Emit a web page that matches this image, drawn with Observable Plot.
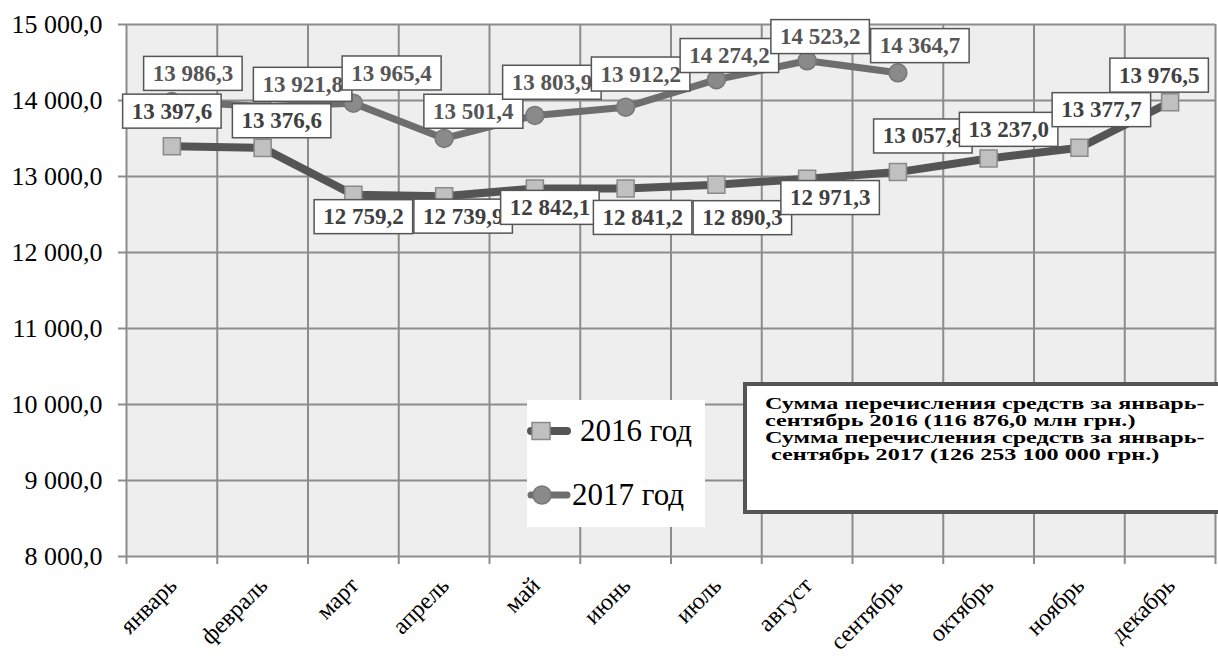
<!DOCTYPE html>
<html><head><meta charset="utf-8">
<script src="https://cdn.jsdelivr.net/npm/d3@7"></script>
<script src="https://cdn.jsdelivr.net/npm/@observablehq/plot@0.6"></script>
<style>
body{margin:0;background:#fff;overflow:hidden}
#wrap{position:relative;width:1218px;height:657px;overflow:hidden;font-family:"Liberation Serif","Tinos","Times New Roman",serif}
#legend{position:absolute;left:527px;top:400px;width:178px;height:127px;background:#fff}
#legend .row{position:absolute;left:0;display:flex;align-items:center;font-size:31px;color:#000;white-space:nowrap}
#note{position:absolute;left:743px;top:382px;width:480px;height:124px;background:#fff;border:4px solid #555;box-sizing:content-box}
#note .t{position:absolute;left:18px;top:9px;font-weight:bold;font-size:17px;line-height:17px;color:#000;white-space:nowrap;transform:scaleX(1.42);transform-origin:0 0}
</style></head><body><div id="wrap"></div>
<script>
const months = ["январь","февраль","март","апрель","май","июнь","июль","август","сентябрь","октябрь","ноябрь","декабрь"];
const values2016 = [13397.6,13376.6,12759.2,12739.9,12842.1,12841.2,12890.3,12971.3,13057.8,13237.0,13377.7,13976.5];
const values2017 = [13986.3,13921.8,13965.4,13501.4,13803.9,13912.2,14274.2,14523.2,14364.7];
const yTicks = [8000,9000,10000,11000,12000,13000,14000,15000];
const seriesNames = ["2016 год","2017 год"];
const noteLines = ["Сумма перечисления средств за январь-","сентябрь 2016 (116 876,0 млн грн.)","Сумма перечисления средств за январь-"," сентябрь 2017 (126 253 100 000 грн.)"];

// label placement (pixel offsets from points)
const off2016 = [[0,-35],[19,-27],[10,22],[19,20],[15,19],[17,29],[26,33],[23,19],[25,-36],[20,-29],[22,-38],[-11,-27]];
const off2017 = [[21,-28],[40,-22],[38,-30],[29,-27],[17,-33],[15,-33],[13,-24],[13,-24],[22,-27]];

const loc = d3.formatLocale({decimal:",", thousands:"\u00a0", grouping:[3], currency:["",""]});
const fmt = loc.format(",.1f");

const d16 = values2016.map((v,i)=>({i, x:i+0.5, v}));
const d17 = values2017.map((v,i)=>({i, x:i+0.5, v}));
const edges = d3.range(months.length+1);
const centers = months.map((m,i)=>i+0.5);
const labelSet = new Set([...values2016, ...values2017].map(fmt));

function labelMarks(data, offs, color){
  return data.map((d,k)=>Plot.text([d], {x:"x", y:"v", text:d=>fmt(d.v), dx:offs[k][0], dy:offs[k][1],
    fontSize:23, fontWeight:"bold", fill:color}));
}

const chart = Plot.plot({
  width:1218, height:657,
  marginLeft:126, marginRight:3, marginTop:24, marginBottom:101,
  style:{fontFamily:"'Liberation Serif', Tinos, 'Times New Roman', serif", background:"transparent", overflow:"visible"},
  x:{domain:[0,months.length], axis:null},
  y:{domain:[8000,15000], axis:null},
  marks:[
    Plot.frame({fill:"#eeeeee", stroke:null}),
    Plot.ruleY(yTicks, {stroke:"#8c8c8c", strokeWidth:2}),
    Plot.ruleX(edges, {stroke:"#8c8c8c", strokeWidth:2}),
    Plot.axisY({ticks:yTicks, tickFormat:fmt, tickSize:8, tickPadding:16, fontSize:26, stroke:"#8c8c8c", strokeWidth:2, fill:"#000", label:null}),
    Plot.axisX({ticks:edges, tickSize:8, tickFormat:()=>"", stroke:"#8c8c8c", strokeWidth:2, label:null}),
    Plot.axisX({ticks:centers, tickSize:0, tickPadding:25, tickRotate:-45, tickFormat:d=>months[Math.round(d-0.5)], fontSize:24, dx:1, fill:"#000", label:null}),
    Plot.line(d16, {x:"x", y:"v", stroke:"#555555", strokeWidth:8}),
    Plot.dot(d16, {x:"x", y:"v", symbol:"square", r:9.6, fill:"#c0c0c0", stroke:"#8a8a8a", strokeWidth:1.5}),
    Plot.line(d17, {x:"x", y:"v", stroke:"#6e6e6e", strokeWidth:7}),
    Plot.dot(d17, {x:"x", y:"v", r:9, fill:"#8a8a8a", stroke:"#777777", strokeWidth:1.5}),
    ...labelMarks(d16, off2016, "#404040"),
    ...labelMarks(d17, off2017, "#555555")
  ]
});

const wrap = document.getElementById("wrap");
wrap.appendChild(chart);

// boxes behind labels (same local transform as the text)
Array.from(chart.querySelectorAll("text")).filter(t=>labelSet.has(t.textContent)).forEach(t=>{
  const bb = t.getBBox();
  const cy = bb.y + bb.height/2;
  const r = document.createElementNS("http://www.w3.org/2000/svg","rect");
  r.setAttribute("x", bb.x - 9);
  r.setAttribute("y", cy - 17);
  r.setAttribute("width", bb.width + 18);
  r.setAttribute("height", 34);
  r.setAttribute("fill", "#fff");
  r.setAttribute("stroke", "#555");
  r.setAttribute("stroke-width", 1.5);
  const tr = t.getAttribute("transform");
  if (tr) r.setAttribute("transform", tr);
  t.parentNode.insertBefore(r, t);
});

// legend
const legend = document.createElement("div");
legend.id = "legend";
const icons = [
  `<svg width="44" height="24"><line x1="4" y1="12" x2="40" y2="12" stroke="#555" stroke-width="8" stroke-linecap="round"/><rect x="5" y="3.5" width="18" height="17" fill="#c0c0c0" stroke="#8a8a8a" stroke-width="1.5"/></svg>`,
  `<svg width="44" height="24"><line x1="4" y1="12" x2="40" y2="12" stroke="#6e6e6e" stroke-width="7" stroke-linecap="round"/><circle cx="15" cy="12" r="9" fill="#8a8a8a" stroke="#777" stroke-width="1.5"/></svg>`
];
seriesNames.forEach((n,k)=>{
  const row = document.createElement("div");
  row.className = "row";
  row.style.top = (k===0 ? 13 : 77) + "px";
  row.innerHTML = icons[k] + `<span style="margin-left:${k===0?9:1}px">${n}</span>`;
  legend.appendChild(row);
});
wrap.appendChild(legend);

// note box
const note = document.createElement("div");
note.id = "note";
const t = document.createElement("div");
t.className = "t";
t.innerHTML = noteLines.map(s=>`<div>${s.replace(/^ /,"&nbsp;")}</div>`).join("");
note.appendChild(t);
wrap.appendChild(note);
</script>
</body></html>
